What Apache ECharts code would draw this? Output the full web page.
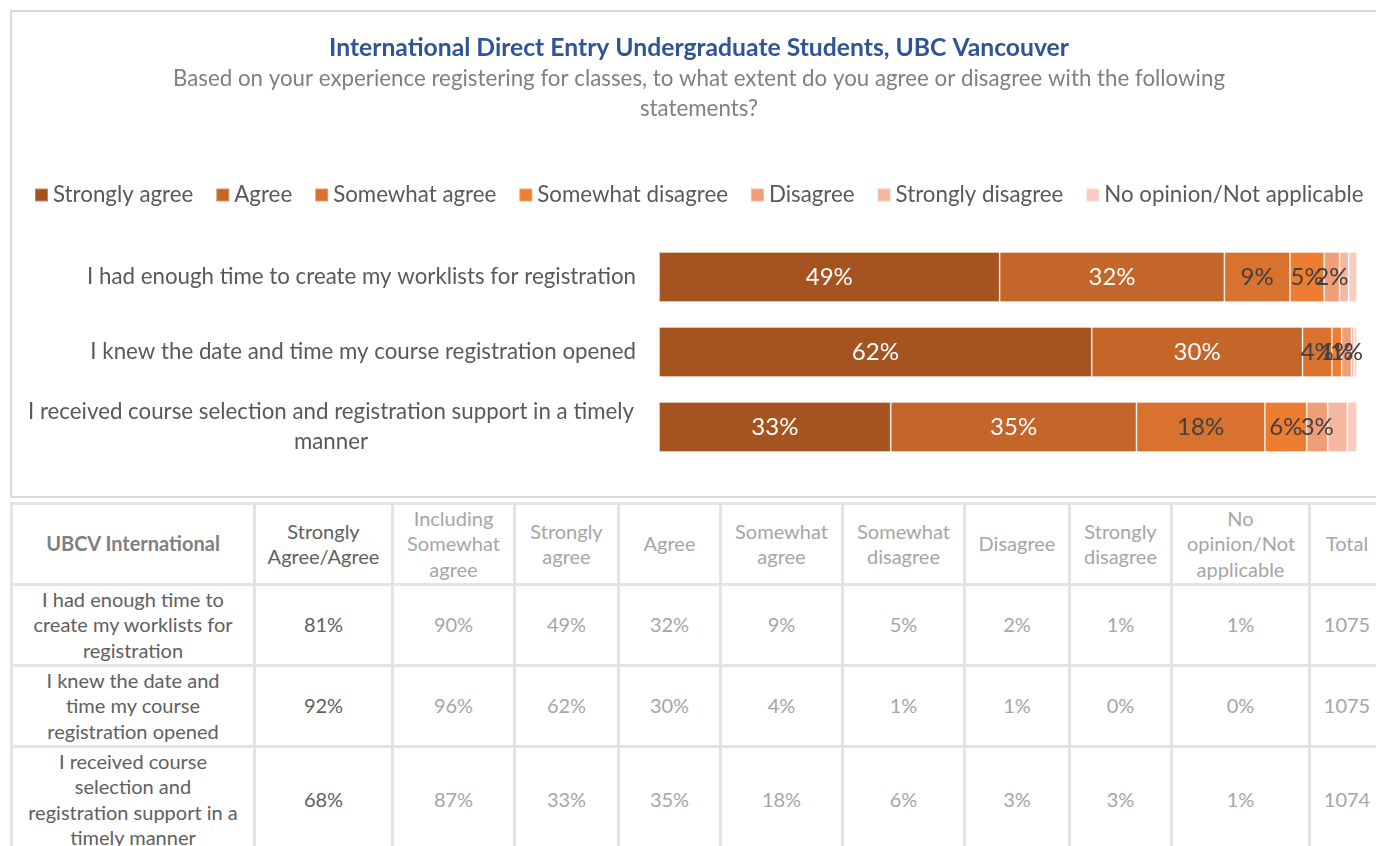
<!DOCTYPE html>
<html>
<head>
<meta charset="utf-8">
<script src="https://cdn.jsdelivr.net/npm/echarts@6/dist/echarts.min.js"></script>
<style>
    body { margin: 0; width: 1376px; height: 846px; overflow: hidden; background: #fff; font-family: Lato, sans-serif; }
    #chart { position: absolute; left: 0; top: 0; width: 1376px; height: 500px; }
    #tbl { position: absolute; left: 10px; top: 502px; border-collapse: collapse; table-layout: fixed; }
    #tbl td { border: 3px solid #e4e4e4; text-align: center; vertical-align: middle; font-size: 20px; line-height: 25.5px; color: #a6a6a6; padding: 0 8px; overflow: hidden; }
    #tbl td.dark { color: #606060; }
    #tbl td.head { font-weight: bold; color: #808080; }
</style>
</head>
<body>
<div id="chart"></div>
<table id="tbl"></table>
<script>
    // statements (bars, top to bottom)
    var categories = [
        'I had enough time to create my worklists for registration',
        'I knew the date and time my course registration opened',
        'I received course selection and registration support in a timely manner'
    ];
    var seriesNames = ['Strongly agree', 'Agree', 'Somewhat agree', 'Somewhat disagree', 'Disagree', 'Strongly disagree', 'No opinion/Not applicable'];
    var colors = ['#A6541F', '#C4652A', '#D9722E', '#ED7D31', '#F09D7A', '#F4B7A1', '#F8CDC0'];

    // percent per statement
    var stronglyAgree = [48.8, 62.0, 33.2];
    var agree = [32.2, 30.2, 35.2];
    var somewhatAgree = [9.4, 4.2, 18.4];
    var somewhatDisagree = [4.9, 1.4, 6.0];
    var disagree = [2.2, 1.4, 3.0];
    var stronglyDisagree = [1.3, 0.4, 2.8];
    var noOpinion = [1.2, 0.4, 1.4];

    // table-only columns
    var tableStatements = ['I had enough time to create my worklists for registration',
        'I knew the date and time my course registration opened',
        'I received course selection and registration support in a timely manner'];
    var tableHeaders = ['UBCV International', 'Strongly Agree/Agree', 'Including Somewhat agree', 'Strongly agree', 'Agree',
        'Somewhat agree', 'Somewhat disagree', 'Disagree', 'Strongly disagree', 'No opinion/Not applicable', 'Total'];
    var combinedAgree = [81, 92, 68];
    var includingSomewhat = [90, 96, 87];
    var totals = [1075, 1075, 1074];

    var allSeries = [stronglyAgree, agree, somewhatAgree, somewhatDisagree, disagree, stronglyDisagree, noOpinion];
    var labelColors = ['#fff', '#fff', '#404040', '#404040', '#404040', null, null];

    var chart = echarts.init(document.getElementById('chart'));

    var series = [];
    for (var i = 0; i < seriesNames.length; i++) {
        series.push({
            name: seriesNames[i],
            type: 'bar',
            stack: 'all',
            barWidth: 50,
            data: allSeries[i],
            itemStyle: { color: colors[i], borderColor: 'rgba(255,255,255,0.3)', borderWidth: 1 },
            label: {
                show: labelColors[i] !== null,
                position: 'inside',
                color: labelColors[i],
                fontSize: 24,
                fontFamily: 'Lato',
                formatter: function (p) { return Math.round(p.value) + '%'; }
            }
        });
    }

    chart.setOption({
        animation: false,
        color: colors,
        title: {
            text: 'International Direct Entry Undergraduate Students, UBC Vancouver',
            subtext: 'Based on your experience registering for classes, to what extent do you agree or disagree with the following\nstatements?',
            left: 694,
            textAlign: 'center',
            top: 31,
            itemGap: 3,
            textStyle: { fontFamily: 'Lato', fontSize: 24.7, fontWeight: 'bold', color: '#2F5597' },
            subtextStyle: { fontFamily: 'Lato', fontSize: 22.3, lineHeight: 30, color: '#808080', align: 'center' }
        },
        legend: {
            top: 179,
            left: 29,
            itemWidth: 13,
            itemHeight: 13,
            itemGap: 22,
            icon: 'rect',
            textStyle: { fontFamily: 'Lato', fontSize: 22.3, color: '#595959' },
            data: seriesNames
        },
        grid: { left: 659, right: 19, top: 239.5, height: 225 },
        xAxis: { type: 'value', min: 0, max: 100, show: false },
        yAxis: {
            type: 'category',
            inverse: true,
            data: categories,
            axisLine: { show: false },
            axisTick: { show: false },
            axisLabel: {
                margin: 23,
                fontFamily: 'Lato',
                fontSize: 22.3,
                color: '#595959',
                formatter: function (v) {
                    if (v.length > 60) {
                        var cut = v.lastIndexOf(' ');
                        return '{c|' + v.slice(0, cut) + '}\n{c|' + v.slice(cut + 1) + '}';
                    }
                    return v;
                },
                rich: { c: { width: 610, align: 'center', fontFamily: 'Lato', fontSize: 22.3, lineHeight: 30, color: '#595959' } }
            }
        },
        graphic: [{
            type: 'rect',
            shape: { x: 11, y: 11, width: 1370, height: 486 },
            style: { fill: 'none', stroke: '#d9d9d9', lineWidth: 2 },
            silent: true
        }],
        series: series
    });

    // table under the chart
    var colWidths = [243, 138, 122, 104, 102, 122, 122, 105, 102, 138, 75];
    var rowHeights = [81, 81, 81, 106];
    var tbl = document.getElementById('tbl');
    tbl.style.width = colWidths.reduce(function (a, b) { return a + b; }, 0) + 'px';
    var html = '<colgroup>' + colWidths.map(function (w) { return '<col style="width:' + w + 'px">'; }).join('') + '</colgroup>';
    html += '<tr style="height:' + rowHeights[0] + 'px">';
    tableHeaders.forEach(function (h, k) {
        var pad = k === 9 ? ' style="padding:0 14px"' : '';
        html += '<td class="' + (k === 0 ? 'head' : (k === 1 ? 'dark' : '')) + '"' + pad + '>' + h + '</td>';
    });
    html += '</tr>';
    for (var r = 0; r < tableStatements.length; r++) {
        var cells = [combinedAgree[r] + '%', includingSomewhat[r] + '%'];
        allSeries.forEach(function (s) { cells.push(Math.round(s[r]) + '%'); });
        cells.push(totals[r]);
        html += '<tr style="height:' + rowHeights[r + 1] + 'px"><td class="dark" style="padding:0 14px">' + tableStatements[r] + '</td>';
        cells.forEach(function (c, k) {
            html += '<td class="' + (k === 0 ? 'dark' : '') + '">' + c + '</td>';
        });
        html += '</tr>';
    }
    tbl.innerHTML = html;
</script>
</body>
</html>
